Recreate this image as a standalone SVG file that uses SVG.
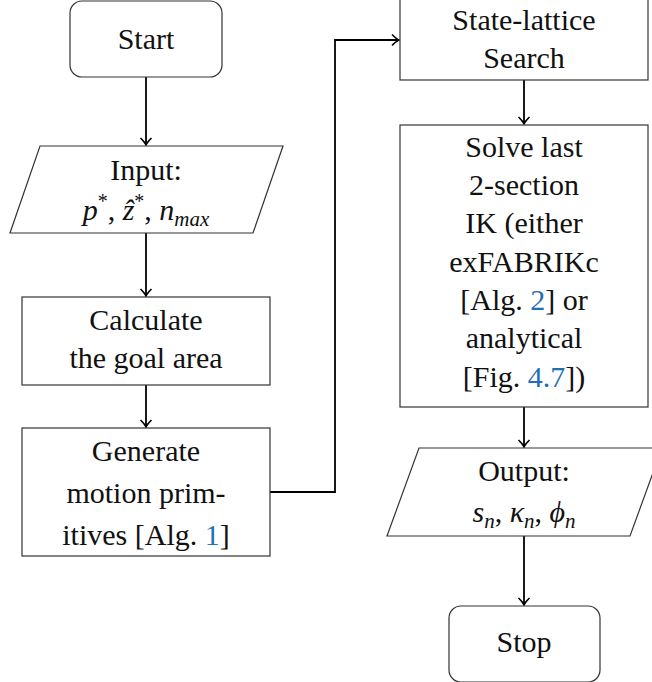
<svg xmlns="http://www.w3.org/2000/svg" width="652" height="682" viewBox="0 0 652 682">
<defs>
<style>
.box{fill:#fff;stroke:#333;stroke-width:1.2}
.t{font-size:30px;fill:#111;text-anchor:middle}
.m{font-style:italic}
.ref{fill:#1f6fb8}
.c{fill:none;stroke:#000;stroke-width:1.8}
</style>
<marker id="ar" markerUnits="userSpaceOnUse" markerWidth="16" markerHeight="16" viewBox="-9 -8 12 16" refX="0" refY="0" orient="auto">
<path d="M -7 -5.5 Q -2.5 -1 0 0 Q -2.5 1 -7 5.5" fill="none" stroke="#000" stroke-width="1.6"/>
</marker>
</defs>
<g id="connectors">
<line class="c" x1="146" y1="77" x2="146" y2="145" marker-end="url(#ar)"/>
<line class="c" x1="146" y1="233" x2="146" y2="296" marker-end="url(#ar)"/>
<line class="c" x1="146" y1="385" x2="146" y2="427" marker-end="url(#ar)"/>
<polyline class="c" points="270,492 335,492 335,40 399,40" marker-end="url(#ar)"/>
<line class="c" x1="524" y1="80" x2="524" y2="124" marker-end="url(#ar)"/>
<line class="c" x1="524" y1="407" x2="524" y2="447" marker-end="url(#ar)"/>
<line class="c" x1="524" y1="536" x2="524" y2="605" marker-end="url(#ar)"/>
</g>
<g font-family="Liberation Serif, Times New Roman, Tinos, Noto Serif, DejaVu Serif, serif">
<g id="start">
<rect class="box" x="70" y="1" width="152" height="76" rx="12"/>
<text class="t" x="146" y="49">Start</text>
</g>
<g id="input">
<polygon class="box" points="40,146 283,146 253,233 10,233"/>
<text class="t" x="146" y="180">Input:</text>
<text class="t" x="146" y="220"><tspan class="m">p</tspan><tspan font-size="20" dy="-12">*</tspan><tspan dy="12">, </tspan><tspan class="m">ẑ</tspan><tspan font-size="20" dy="-12">*</tspan><tspan dy="12">, </tspan><tspan class="m">n</tspan><tspan class="m" font-size="21" dy="6">max</tspan></text>
</g>
<g id="calculate">
<rect class="box" x="22" y="297" width="248" height="88"/>
<text class="t" x="146" y="330">Calculate</text>
<text class="t" x="146" y="368">the goal area</text>
</g>
<g id="generate">
<rect class="box" x="22" y="428" width="248" height="128"/>
<text class="t" x="146" y="461">Generate</text>
<text class="t" x="146" y="503">motion prim-</text>
<text class="t" x="146" y="545">itives [Alg. <tspan class="ref">1</tspan>]</text>
</g>
<g id="search">
<rect class="box" x="400" y="-2" width="248" height="82"/>
<text class="t" x="524" y="30">State-lattice</text>
<text class="t" x="524" y="68">Search</text>
</g>
<g id="solve">
<rect class="box" x="400" y="125" width="248" height="282"/>
<text class="t" x="524" y="157">Solve last</text>
<text class="t" x="524" y="195">2-section</text>
<text class="t" x="524" y="233">IK (either</text>
<text class="t" x="524" y="272">exFABRIKc</text>
<text class="t" x="524" y="310">[Alg. <tspan class="ref">2</tspan>] or</text>
<text class="t" x="524" y="348">analytical</text>
<text class="t" x="524" y="387">[Fig. <tspan class="ref">4.7</tspan>])</text>
</g>
<g id="output">
<polygon class="box" points="419,448 662,448 630,536 387,536"/>
<text class="t" x="524" y="481">Output:</text>
<text class="t" x="524" y="522"><tspan class="m">s</tspan><tspan class="m" font-size="21" dy="6">n</tspan><tspan dy="-6">, </tspan><tspan class="m">κ</tspan><tspan class="m" font-size="21" dy="6">n</tspan><tspan dy="-6">, </tspan><tspan class="m">ϕ</tspan><tspan class="m" font-size="21" dy="6">n</tspan></text>
</g>
<g id="stop">
<rect class="box" x="449" y="606" width="151" height="76" rx="12"/>
<text class="t" x="524" y="652">Stop</text>
</g>
</g>
</svg>
